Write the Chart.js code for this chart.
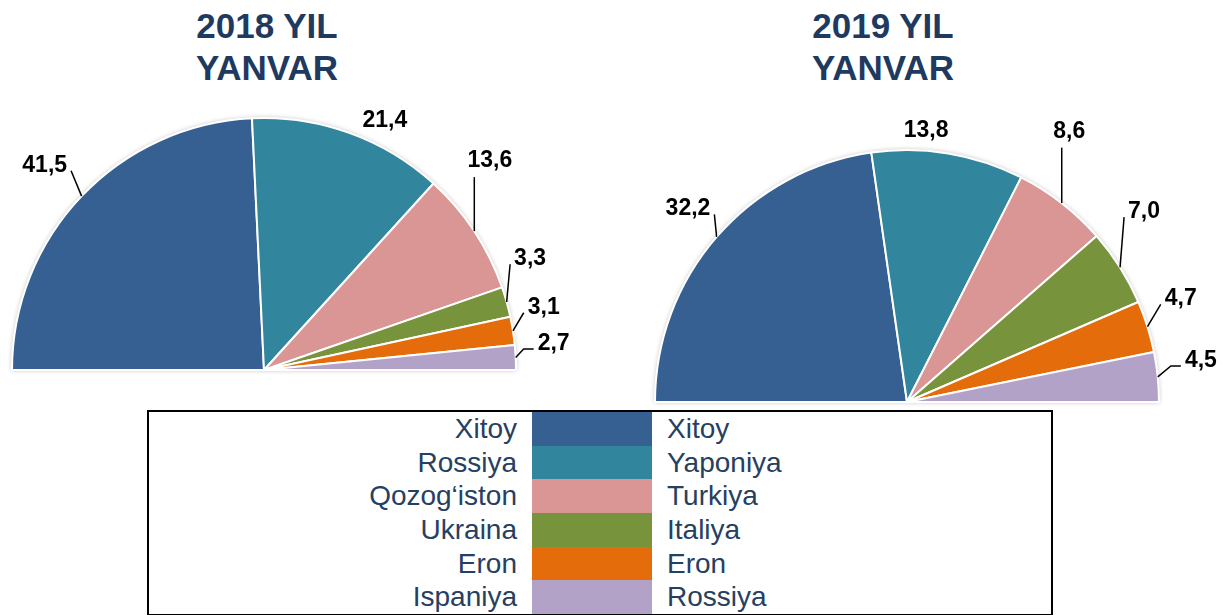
<!DOCTYPE html>
<html>
<head>
<meta charset="utf-8">
<script src="https://cdn.jsdelivr.net/npm/chart.js@4.4.1/dist/chart.umd.min.js"></script>
<style>
  body {
    margin: 0;
    width: 1232px;
    height: 615px;
    overflow: hidden;
    position: relative;
    background: #fff;
    font-family: "Liberation Sans", Arial, sans-serif;
  }
  .title {
    position: absolute;
    top: 5px;
    width: 300px;
    text-align: center;
    font-weight: bold;
    font-size: 35px;
    line-height: 42px;
    color: #1F3A60;
  }
  #title2018 { left: 117px; }
  #title2019 { left: 733px; }
  #pie2018 { position: absolute; left: 0; top: 0; }
  #pie2019 { position: absolute; left: 620px; top: 0; }
  #legend {
    position: absolute;
    left: 147px;
    top: 410px;
    width: 906px;
    height: 206px;
    box-sizing: border-box;
    border: 2px solid #000;
    display: grid;
    grid-template-columns: 368px 120px 1fr;
    grid-template-rows: repeat(6, 1fr);
    column-gap: 15px;
    font-size: 28px;
    color: #264061;
  }
  #legend .left { text-align: right; }
  #legend div { white-space: nowrap; line-height: 33.67px; }
</style>
</head>
<body>
<div class="title" id="title2018"></div>
<div class="title" id="title2019"></div>
<canvas id="pie2018" width="620" height="410"></canvas>
<canvas id="pie2019" width="612" height="410"></canvas>
<div id="legend"></div>

<script>
// Chart data
const title2018 = ["2018 YIL", "YANVAR"];
const title2019 = ["2019 YIL", "YANVAR"];

const countries2018 = ["Xitoy", "Rossiya", "Qozog‘iston", "Ukraina", "Eron", "Ispaniya"];
const values2018 = [41.5, 21.4, 13.6, 3.3, 3.1, 2.7];

const countries2019 = ["Xitoy", "Yaponiya", "Turkiya", "Italiya", "Eron", "Rossiya"];
const values2019 = [32.2, 13.8, 8.6, 7.0, 4.7, 4.5];

const sliceColors = ["#376092", "#31859C", "#D99694", "#77933C", "#E46C0A", "#B3A2C7"];

// Titles
document.getElementById("title2018").innerHTML = title2018.join("<br>");
document.getElementById("title2019").innerHTML = title2019.join("<br>");

// Legend: 2018 names | colour | 2019 names
const legendBox = document.getElementById("legend");
for (let i = 0; i < sliceColors.length; i++) {
  const left = document.createElement("div");
  left.className = "left";
  left.textContent = countries2018[i];
  const swatch = document.createElement("div");
  swatch.style.background = sliceColors[i];
  const right = document.createElement("div");
  right.textContent = countries2019[i];
  legendBox.append(left, swatch, right);
}

// Value labels outside the slices, with leader lines like Excel
const sliceLabels = {
  id: "sliceLabels",
  beforeDatasetsDraw(chart) {
    // soft grey halo around the half pie
    const arc = chart.getDatasetMeta(0).data[0];
    const { x, y, outerRadius } = arc.getProps(["x", "y", "outerRadius"], true);
    const ctx = chart.ctx;
    ctx.save();
    ctx.beginPath();
    ctx.arc(x, y, outerRadius, Math.PI, 2 * Math.PI);
    ctx.closePath();
    ctx.shadowColor = "rgba(0,0,0,0.3)";
    ctx.shadowBlur = 5;
    ctx.fillStyle = "#fff";
    ctx.fill();
    ctx.restore();
  },
  afterDatasetsDraw(chart, args, opts) {
    const ctx = chart.ctx;
    const meta = chart.getDatasetMeta(0);
    const values = chart.data.datasets[0].data;
    ctx.save();
    ctx.font = 'bold 23px "Liberation Sans", Arial, sans-serif';
    ctx.fillStyle = "#000";
    ctx.strokeStyle = "#000";
    ctx.lineWidth = 1.5;
    ctx.textAlign = "center";
    meta.data.forEach((arc, i) => {
      const { x, y, startAngle, endAngle, outerRadius } =
        arc.getProps(["x", "y", "startAngle", "endAngle", "outerRadius"], true);
      const mid = (startAngle + endAngle) / 2;
      const [dA, dR] = opts.nudge[i];
      const a = mid - dA * Math.PI / 180;
      const cx = x + (outerRadius + dR) * Math.cos(a);
      const cy = y + (outerRadius + dR) * Math.sin(a);
      const text = values[i].toFixed(1).replace(".", ",");
      const w = ctx.measureText(text).width;
      ctx.fillText(text, cx, cy + 8);

      // leader line from the arc edge to the label
      const px = x + outerRadius * Math.cos(mid);
      const py = y + outerRadius * Math.sin(mid);
      const l = cx - w / 2 - 4;
      const r = cx + w / 2 + 4;
      let tx, ty;
      if (px >= l && px <= r) {
        tx = px;
        ty = cy + 18;
      } else {
        tx = px < l ? l : r;
        ty = cy + 7;
      }
      if (Math.hypot(tx - px, ty - py) < 15) return;
      ctx.beginPath();
      ctx.moveTo(px, py);
      if (Math.abs(ty - py) < Math.abs(tx - px)) {
        ctx.lineTo(tx + (px < l ? -10 : 10), ty);
      }
      ctx.lineTo(tx, ty);
      ctx.stroke();
    });
    ctx.restore();
  }
};

function makeHalfPie(canvasId, labels, values, nudge, padding) {
  return new Chart(document.getElementById(canvasId), {
    type: "pie",
    data: {
      labels: labels,
      datasets: [{
        data: values,
        backgroundColor: sliceColors,
        borderColor: "#fff",
        borderWidth: 2
      }]
    },
    options: {
      responsive: false,
      animation: false,
      rotation: -90,
      circumference: 180,
      layout: { padding: padding },
      plugins: {
        legend: { display: false },
        tooltip: { enabled: false },
        sliceLabels: { nudge: nudge } // [angle shift in degrees, distance past the rim]
      }
    },
    plugins: [sliceLabels]
  });
}

makeHalfPie("pie2018", countries2018, values2018,
  [[0.4, 49], [-5.9, 27], [9.6, 57], [7.3, 37], [4.0, 35], [2.7, 39]],
  { left: 11, right: 103, top: 117, bottom: 39 });

makeHalfPie("pie2019", countries2019, values2019,
  [[-0.7, 41], [5.4, 22], [7.1, 65], [6.7, 53], [3.5, 41], [2.6, 45]],
  { left: 34, right: 72, top: 149, bottom: 7 });
</script>
</body>
</html>
